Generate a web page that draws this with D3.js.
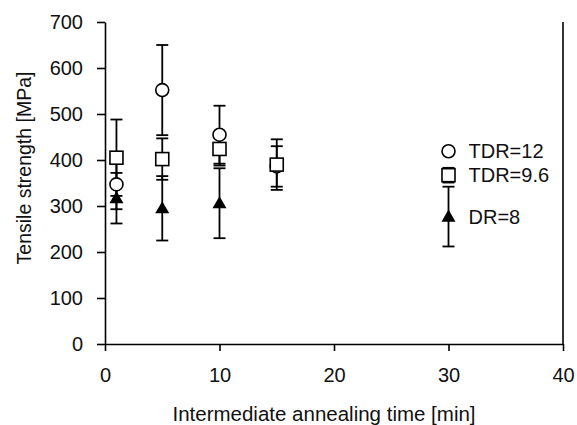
<!DOCTYPE html>
<html>
<head>
<meta charset="utf-8">
<script src="https://cdn.jsdelivr.net/npm/d3@7"></script>
<style>
  body { margin: 0; background: #fff; }
  text { font-family: "Liberation Sans", Arial, sans-serif; fill: #111; }
  .axis path, .axis line { stroke: #000; stroke-width: 1.6; }
</style>
</head>
<body>
<div id="chart"></div>
<script>
// annealing time [min]
var times = [1, 5, 10, 15, 30];

// tensile strength [MPa] and error bars (+/-)
var tdr12 = [347, 552, 455, 386, 419];
var tdr12Err = [54, 98, 63, 44, 0];

var tdr96 = [405, 402, 424, 390, 367];
var tdr96Err = [83, 45, 36, 55, 16];

var dr8 = [317, 295, 306, null, 277];
var dr8Err = [55, 70, 76, null, 65];

var seriesNames = ["TDR=12", "TDR=9.6", "DR=8"];

var xTicks = [0, 10, 20, 30, 40];
var yTicks = [0, 100, 200, 300, 400, 500, 600, 700];

var W = 577, H = 425;
var margin = { top: 22, right: 14, bottom: 81, left: 105 };

var x = d3.scaleLinear().domain([0, 40]).range([margin.left, W - margin.right]);
var y = d3.scaleLinear().domain([0, 700]).range([H - margin.bottom, margin.top]);

var svg = d3.select("#chart").append("svg")
    .attr("width", W)
    .attr("height", H);

// axes
svg.append("g")
    .attr("class", "axis")
    .attr("transform", "translate(0," + y(0) + ")")
    .call(d3.axisBottom(x).tickValues(xTicks).tickSize(7).tickSizeOuter(0).tickPadding(17))
    .call(function (g) { g.selectAll("text").style("font-size", "20px"); });

svg.append("g")
    .attr("class", "axis")
    .attr("transform", "translate(" + x(0) + ",0)")
    .call(d3.axisLeft(y).tickValues(yTicks).tickSize(8).tickSizeOuter(0).tickPadding(14))
    .call(function (g) { g.selectAll("text").style("font-size", "20px"); });

// right frame line
svg.append("line")
    .attr("x1", x(40)).attr("x2", x(40))
    .attr("y1", y(700)).attr("y2", y(0))
    .attr("stroke", "#000")
    .attr("stroke-width", 1.6);

// axis titles
svg.append("text")
    .attr("x", 324)
    .attr("y", 421)
    .attr("text-anchor", "middle")
    .style("font-size", "20.5px")
    .text("Intermediate annealing time [min]");

svg.append("text")
    .attr("transform", "translate(31,168) rotate(-90)")
    .attr("text-anchor", "middle")
    .style("font-size", "19.5px")
    .text("Tensile strength [MPa]");

var series = [
    { name: seriesNames[0], values: tdr12, err: tdr12Err, shape: "circle" },
    { name: seriesNames[1], values: tdr96, err: tdr96Err, shape: "square" },
    { name: seriesNames[2], values: dr8, err: dr8Err, shape: "triangle" }
];

function points(s) {
    return times.map(function (t, i) {
        return { t: t, v: s.values[i], e: s.err[i] };
    }).filter(function (d) { return d.v !== null; });
}

// error bars first
var capW = 6;
series.forEach(function (s) {
    var g = svg.append("g").attr("stroke", "#000").attr("stroke-width", 1.8);
    points(s).filter(function (d) { return d.e > 0; }).forEach(function (d) {
        g.append("line")
            .attr("x1", x(d.t)).attr("x2", x(d.t))
            .attr("y1", y(d.v + d.e)).attr("y2", y(d.v - d.e));
        [d.v + d.e, d.v - d.e].forEach(function (c) {
            g.append("line")
                .attr("x1", x(d.t) - capW).attr("x2", x(d.t) + capW)
                .attr("y1", y(c)).attr("y2", y(c));
        });
    });
});

// markers: circle, triangle, then square on top
var drawOrder = [series[0], series[2], series[1]];
drawOrder.forEach(function (s) {
    var g = svg.append("g");
    var pts = points(s);
    if (s.shape === "circle") {
        g.selectAll("circle").data(pts).enter().append("circle")
            .attr("cx", function (d) { return x(d.t); })
            .attr("cy", function (d) { return y(d.v); })
            .attr("r", 6.5)
            .attr("fill", "#fff")
            .attr("stroke", "#000")
            .attr("stroke-width", 1.6);
    } else if (s.shape === "square") {
        g.selectAll("rect").data(pts).enter().append("rect")
            .attr("x", function (d) { return x(d.t) - 6.5; })
            .attr("y", function (d) { return y(d.v) - 6.5; })
            .attr("width", 13)
            .attr("height", 13)
            .attr("fill", "#fff")
            .attr("stroke", "#000")
            .attr("stroke-width", 1.6);
    } else {
        var tri = d3.symbol().type(d3.symbolTriangle).size(85);
        g.selectAll("path").data(pts).enter().append("path")
            .attr("transform", function (d) { return "translate(" + x(d.t) + "," + (y(d.v) + 1) + ")"; })
            .attr("d", tri)
            .attr("fill", "#000");
    }
});

// labels beside the t=30 points
series.forEach(function (s) {
    var last = s.values[s.values.length - 1];
    svg.append("text")
        .attr("x", x(30) + 20)
        .attr("y", y(last))
        .attr("dy", "0.36em")
        .style("font-size", "20px")
        .text(s.name);
});
</script>
</body>
</html>
